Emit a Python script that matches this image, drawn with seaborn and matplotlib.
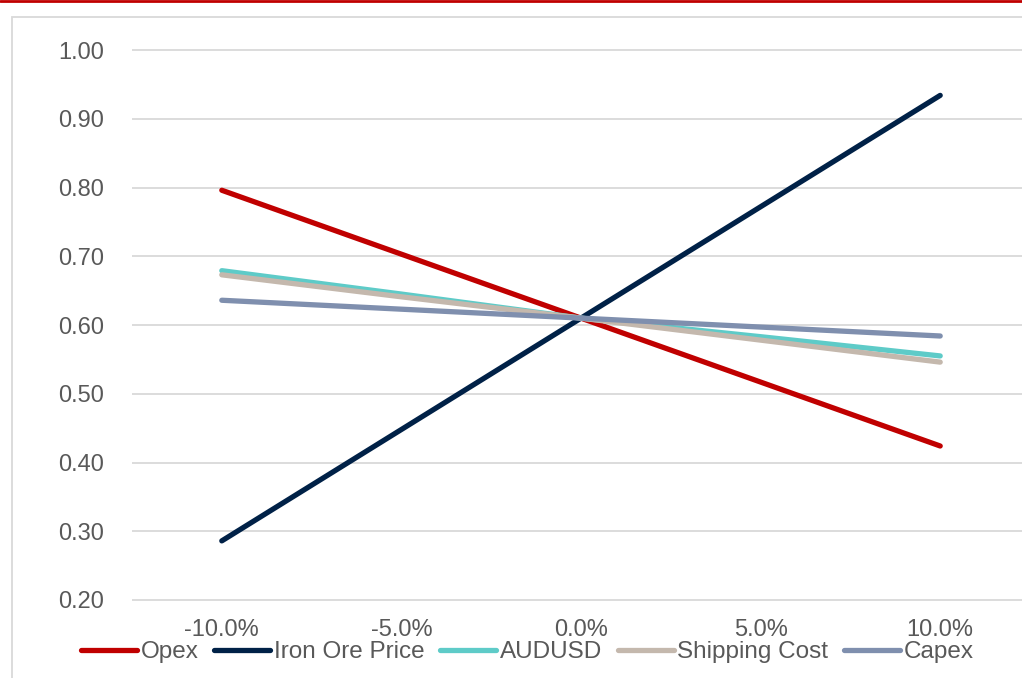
import matplotlib
matplotlib.use("Agg")
import matplotlib.pyplot as plt
from matplotlib.lines import Line2D
from matplotlib.patches import Rectangle
import seaborn as sns
import pandas as pd

# Sensitivity of value to +/- changes in each driver
changes = ["-10.0%", "-5.0%", "0.0%", "5.0%", "10.0%"]
opex = [0.796, 0.703, 0.610, 0.517, 0.424]
iron_ore_price = [0.286, 0.448, 0.610, 0.772, 0.934]
audusd = [0.679, 0.645, 0.610, 0.583, 0.555]
shipping_cost = [0.673, 0.641, 0.610, 0.578, 0.546]
capex = [0.636, 0.623, 0.610, 0.597, 0.584]

series = {
    "Opex": opex,
    "Iron Ore Price": iron_ore_price,
    "AUDUSD": audusd,
    "Shipping Cost": shipping_cost,
    "Capex": capex,
}
colors = {
    "Opex": "#c00000",
    "Iron Ore Price": "#002147",
    "AUDUSD": "#5ecbc8",
    "Shipping Cost": "#c4b8ad",
    "Capex": "#7f8fae",
}

rows = []
for name, vals in series.items():
    for i, v in enumerate(vals):
        rows.append({"pos": i, "value": v, "series": name})
df = pd.DataFrame(rows)

sns.set_theme(style="white")
plt.rcParams["font.family"] = ["Liberation Sans", "DejaVu Sans"]

W, H = 1022, 678
fig = plt.figure(figsize=(W / 100, H / 100), dpi=100)

# red rule along the top and light frame around the chart
fig.add_artist(Line2D([0, 1], [1 - 1.2 / H, 1 - 1.2 / H], color="#c00000", lw=2.0,
                      transform=fig.transFigure))
fig.add_artist(Rectangle((12 / W, -0.1), 1.2, (H - 17) / H + 0.1, fill=False,
                         edgecolor="#d9d9d9", lw=1.3, transform=fig.transFigure))

ymin, ymax = 0.195, 1.005
pix_per_unit = 550 / 0.8
top_px = 50 - (ymax - 1.0) * pix_per_unit
bot_px = 600 + (0.2 - ymin) * pix_per_unit
left_px, right_px = 132, 1030
ax = fig.add_axes([left_px / W, 1 - bot_px / H, (right_px - left_px) / W, (bot_px - top_px) / H])
ax.set_facecolor("none")

sns.lineplot(data=df, x="pos", y="value", hue="series", palette=colors,
             hue_order=list(series.keys()), linewidth=3.8, ax=ax, legend=False,
             solid_capstyle="round")

ax.set_xlim(-0.5, 4.5)
ax.set_ylim(ymin, ymax)
ax.set_xticks(range(len(changes)))
ax.set_xticklabels(changes)
ax.set_yticks([0.2, 0.3, 0.4, 0.5, 0.6, 0.7, 0.8, 0.9, 1.0])
ax.set_yticklabels([f"{t:.2f}" for t in ax.get_yticks()])
ax.set_xlabel("")
ax.set_ylabel("")
ax.grid(axis="y", color="#d9d9d9", lw=1.3)
ax.grid(axis="x", visible=False)
ax.set_axisbelow(True)
for s in ax.spines.values():
    s.set_visible(False)
ax.tick_params(axis="both", length=0, labelsize=17, labelcolor="#595959")
ax.tick_params(axis="y", pad=20)
ax.tick_params(axis="x", pad=11)

handles = [Line2D([], [], color=colors[n], lw=3.8, solid_capstyle="round") for n in series]
leg = fig.legend(handles, list(series.keys()), loc="center left",
                 bbox_to_anchor=(81 / W, (H - 652) / H), ncol=5, frameon=False,
                 fontsize=17.5, handlelength=2.3, handletextpad=0.15,
                 columnspacing=0.65, borderpad=0, borderaxespad=0)
for t in leg.get_texts():
    t.set_color("#595959")

fig.savefig("out.png", dpi=100)
